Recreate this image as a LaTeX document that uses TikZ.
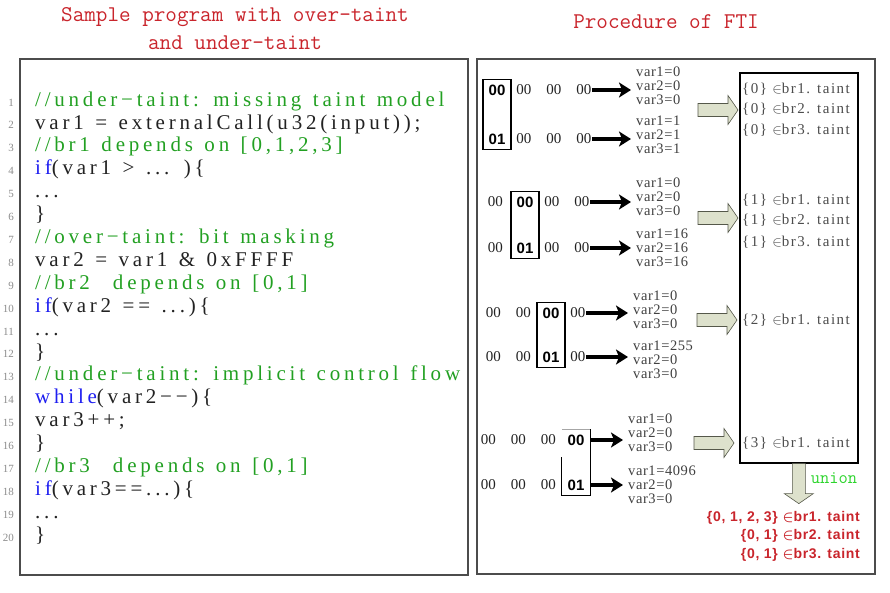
\documentclass[tikz,border=0pt]{standalone}
\usepackage{fontspec}
\usetikzlibrary{arrows.meta,positioning,fit}
\newfontfamily\codefont[LetterSpace=18]{Liberation Serif}
\newfontfamily\serfont{Liberation Serif}
\newfontfamily\varfont[LetterSpace=4]{Liberation Serif}
\newfontfamily\taintfont[LetterSpace=10]{Liberation Serif}
\newfontfamily\hexfont{Liberation Sans}
\newfontfamily\resfont[LetterSpace=5]{Liberation Sans}
\definecolor{titlered}{HTML}{C9252C}
\definecolor{cmtgreen}{HTML}{22A022}
\definecolor{kwblue}{HTML}{1E1EF0}
\definecolor{uniongreen}{HTML}{2CD42C}
\definecolor{fatfill}{HTML}{DDE1CC}
\definecolor{fatline}{HTML}{55584A}
\definecolor{ink}{HTML}{222222}
\newcommand{\cmt}[1]{{\color{cmtgreen}#1}}
\newcommand{\kw}[1]{{\color{kwblue}#1}}
\newcommand{\bytegap}{\hspace{1em}}
\newcommand{\widespaces}{\spaceskip=11.5pt\relax}

\tikzset{
  panel/.style={draw=black!70, line width=1.2pt},
  title/.style={text=titlered, font=\fontsize{22.5}{28}\selectfont\ttfamily, align=center},
  lineno/.style={font=\fontsize{11}{11}\serfont, text=black!45, anchor=base east, inner sep=0},
  hexbold/.style={font=\fontsize{15}{15}\hexfont\bfseries, inner xsep=5.5pt, inner ysep=5pt},
  hexrow/.style={font=\fontsize{15}{15}\serfont, text=ink, inner sep=1pt},
  varblock/.style={font=\fontsize{14.5}{14}\varfont, text=black!75, align=left, anchor=west, inner xsep=5pt},
  flow/.style={-{Stealth[length=12pt,width=15pt,inset=3pt]}, line width=3.4pt},
  taint/.style={font=\fontsize{15}{15}\taintfont, text=black!70, anchor=west, inner sep=1pt},
  fatarrow/.pic={\draw[fill=fatfill, draw=fatline, line width=0.6pt] (0,-6.5) -- (30,-6.5) -- (30,-14.5) -- (40,0) -- (30,14.5) -- (30,6.5) -- (0,6.5) -- cycle;}
}

\begin{document}
\begin{tikzpicture}[x=1pt, y=-1pt]
  \useasboundingbox (0,0) rectangle (890,592);

  % left panel: the sample program
  \node[title] (ltitle) at (235,29) {Sample program with over-taint\\and under-taint};
  \draw[panel] (20,59) rectangle (468,575);
  \foreach \i in {1,...,20}
    \node[lineno] (n\i) at (14,{83.1+22.9*\i}) {\i};
  \node[anchor=north west, inner sep=0, align=left, font=\fontsize{21}{22.9}\codefont\widespaces, text=ink] (prog) at (35,91.4) {
    \cmt{//under−taint: missing taint model}\\
    var1 = externalCall(u32(input));\\
    \cmt{//br1 depends on [0,1,2,3]}\\
    \kw{if}(var1 > ... )\{\\
    ...\\
    \}\\
    \cmt{//over−taint: bit masking}\\
    var2 = var1 \& 0xFFFF\\
    \cmt{//br2~~depends on [0,1]}\\
    \kw{if}(var2 == ...)\{\\
    ...\\
    \}\\
    \cmt{//under−taint: implicit control flow}\\
    \kw{while}(var2−−)\{\\
    var3++;\\
    \}\\
    \cmt{//br3~~depends on [0,1]}\\
    \kw{if}(var3==...)\{\\
    ...\\
    \}};

  % right panel: procedure
  \node[title] (rtitle) at (666,22) {Procedure of FTI};
  \draw[panel] (477,59) rectangle (875,574);

  % byte 1
  \node[hexbold] (b1a) at (497,90) {00};
  \node[hexbold] (b1b) at (497,139) {01};
  \node[hexrow, right=4pt of b1a] (r1a) {00\bytegap00\bytegap00};
  \node[hexrow, right=4pt of b1b] (r1b) {00\bytegap00\bytegap00};
  \node[draw, line width=1.2pt, fit=(b1a)(b1b), inner sep=0] (box1) {};
  \node[varblock] (v1a) at (631,86) {var1=0\\var2=0\\var3=0};
  \node[varblock] (v1b) at (631,135) {var1=1\\var2=1\\var3=1};
  \draw[flow] (r1a.east) -- (r1a.east -| v1a.west);
  \draw[flow] (r1b.east) -- (r1b.east -| v1b.west);

  % byte 2
  \node[hexbold] (b2a) at (525,202) {00};
  \node[hexbold] (b2b) at (525,248) {01};
  \node[hexrow, left=7pt of b2a] (l2a) {00};
  \node[hexrow, left=7pt of b2b] (l2b) {00};
  \node[hexrow, right=4pt of b2a] (r2a) {00\bytegap00};
  \node[hexrow, right=4pt of b2b] (r2b) {00\bytegap00};
  \node[draw, line width=1.2pt, fit=(b2a)(b2b), inner sep=0] (box2) {};
  \node[varblock] (v2a) at (631,197) {var1=0\\var2=0\\var3=0};
  \node[varblock] (v2b) at (631,248) {var1=16\\var2=16\\var3=16};
  \draw[flow] (r2a.east) -- (r2a.east -| v2a.west);
  \draw[flow] (r2b.east) -- (r2b.east -| v2b.west);

  % byte 3
  \node[hexbold] (b3a) at (551,313) {00};
  \node[hexbold] (b3b) at (551,357) {01};
  \node[hexrow, left=5pt of b3a] (l3a) {00\bytegap00};
  \node[hexrow, left=5pt of b3b] (l3b) {00\bytegap00};
  \node[hexrow, right=4pt of b3a] (r3a) {00};
  \node[hexrow, right=4pt of b3b] (r3b) {00};
  \node[draw, line width=1.2pt, fit=(b3a)(b3b), inner sep=0] (box3) {};
  \node[varblock] (v3a) at (628,310) {var1=0\\var2=0\\var3=0};
  \node[varblock] (v3b) at (628,360) {var1=255\\var2=0\\var3=0};
  \draw[flow] (r3a.east) -- (r3a.east -| v3a.west);
  \draw[flow] (r3b.east) -- (r3b.east -| v3b.west);

  % byte 4
  \node[hexbold] (b4a) at (576,440) {00};
  \node[hexbold] (b4b) at (576,485) {01};
  \node[hexrow, left=5pt of b4a] (l4a) {00\bytegap00\bytegap00};
  \node[hexrow, left=5pt of b4b] (l4b) {00\bytegap00\bytegap00};
  \node[fit=(b4a)(b4b), inner sep=0] (box4) {};
  \draw[black!35, line width=1pt] (box4.north west) -- (box4.north east);
  \draw[line width=1.2pt] (box4.north east) -- (box4.south east) -- (box4.south west) -- ([yshift=-28pt]box4.north west);
  \node[varblock] (v4a) at (623,433) {var1=0\\var2=0\\var3=0};
  \node[varblock] (v4b) at (623,485) {var1=4096\\var2=0\\var3=0};
  \draw[flow] (b4a.east) -- (b4a.east -| v4a.west);
  \draw[flow] (b4b.east) -- (b4b.east -| v4b.west);

  % taint sets
  \pic at (698,110) {fatarrow};
  \pic at (698,218) {fatarrow};
  \pic at (697,320) {fatarrow};
  \pic at (694,443) {fatarrow};
  \node[draw, line width=1.6pt, anchor=north west, minimum width=118, minimum height=390, inner sep=0] (res) at (739,72) {};
  \node[taint] (t1a) at (741,89) {\{0\} $\in$br1. taint};
  \node[taint] (t1b) at (741,109) {\{0\} $\in$br2. taint};
  \node[taint] (t1c) at (741,130) {\{0\} $\in$br3. taint};
  \node[taint] (t2a) at (741,200) {\{1\} $\in$br1. taint};
  \node[taint] (t2b) at (741,220) {\{1\} $\in$br2. taint};
  \node[taint] (t2c) at (741,242) {\{1\} $\in$br3. taint};
  \node[taint] (t3a) at (741,320) {\{2\} $\in$br1. taint};
  \node[taint] (t4a) at (741,443) {\{3\} $\in$br1. taint};

  % union
  \pic[rotate=-90] at (res.south) {fatarrow};
  \node[font=\fontsize{18}{18}\selectfont\ttfamily, text=uniongreen] (unionlbl) at (834,478) {union};
  \node[font=\fontsize{14}{18.5}\resfont\bfseries\boldmath, text=titlered, align=right, anchor=north east, inner sep=0] (final) at (860,511)
    {\{0, 1, 2, 3\} $\in$br1. taint\\\{0, 1\} $\in$br2. taint\\\{0, 1\} $\in$br3. taint};
\end{tikzpicture}
\end{document}
